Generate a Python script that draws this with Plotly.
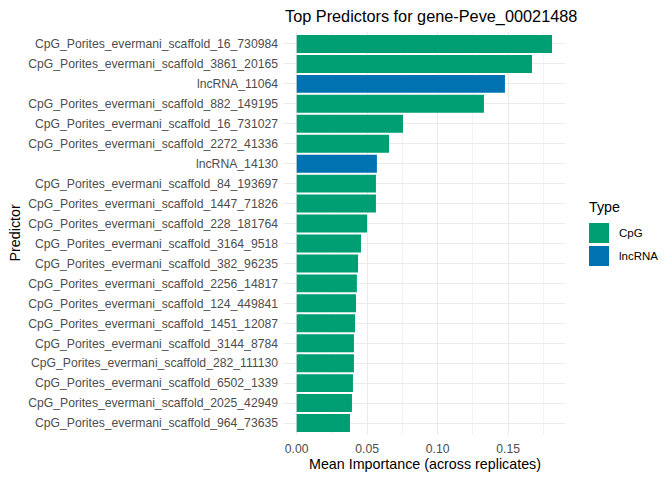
import plotly.graph_objects as go

predictors = [
    "CpG_Porites_evermani_scaffold_16_730984",
    "CpG_Porites_evermani_scaffold_3861_20165",
    "lncRNA_11064",
    "CpG_Porites_evermani_scaffold_882_149195",
    "CpG_Porites_evermani_scaffold_16_731027",
    "CpG_Porites_evermani_scaffold_2272_41336",
    "lncRNA_14130",
    "CpG_Porites_evermani_scaffold_84_193697",
    "CpG_Porites_evermani_scaffold_1447_71826",
    "CpG_Porites_evermani_scaffold_228_181764",
    "CpG_Porites_evermani_scaffold_3164_9518",
    "CpG_Porites_evermani_scaffold_382_96235",
    "CpG_Porites_evermani_scaffold_2256_14817",
    "CpG_Porites_evermani_scaffold_124_449841",
    "CpG_Porites_evermani_scaffold_1451_12087",
    "CpG_Porites_evermani_scaffold_3144_8784",
    "CpG_Porites_evermani_scaffold_282_111130",
    "CpG_Porites_evermani_scaffold_6502_1339",
    "CpG_Porites_evermani_scaffold_2025_42949",
    "CpG_Porites_evermani_scaffold_964_73635",
]
importance = [0.1811, 0.1669, 0.1477, 0.1328, 0.0754, 0.0655, 0.0569, 0.0562,
              0.0562, 0.0499, 0.0456, 0.0435, 0.0427, 0.0421, 0.0414, 0.0406,
              0.0406, 0.0399, 0.0392, 0.0378]
types = ["CpG" if p.startswith("CpG") else "lncRNA" for p in predictors]
type_names = ["CpG", "lncRNA"]
type_colors = {"CpG": "#009E73", "lncRNA": "#0072B2"}
x_ticks = [0, 0.05, 0.10, 0.15]
x_tick_labels = ["0.00", "0.05", "0.10", "0.15"]

FONT = "Liberation Sans, Arial, sans-serif"

fig = go.Figure()
for t in type_names:
    ys = [p for p, tt in zip(predictors, types) if tt == t]
    xs = [v for v, tt in zip(importance, types) if tt == t]
    fig.add_trace(go.Bar(x=xs, y=ys, orientation="h", width=0.9,
                         marker=dict(color=type_colors[t], line=dict(width=0)),
                         name=t, showlegend=False))

n = len(predictors)
# page body has an 8px margin, so the figure is 8px smaller and margins shifted
fig.update_layout(
    width=664, height=472,
    margin=dict(l=276, r=107, t=24, b=45),
    paper_bgcolor="white", plot_bgcolor="white",
    barmode="overlay",
    font=dict(family=FONT, color="#4d4d4d", size=12.2),
    title=dict(text="Top Predictors for gene-Peve_00021488", x=277/664, xanchor="left",
               y=1 - 8/472, yanchor="middle",
               font=dict(size=16.3, color="black", family=FONT)),
    xaxis=dict(range=[-0.009, 0.1903], tickvals=x_ticks, ticktext=x_tick_labels,
               showgrid=True, gridcolor="#EBEBEB", gridwidth=1.1, zeroline=False,
               showline=False, ticks="", tickfont=dict(size=12.2, color="#4d4d4d"),
               ticklabelstandoff=5,
               minor=dict(dtick=0.025, tick0=0.025, showgrid=True, gridcolor="#F3F3F3", gridwidth=0.6)),
    yaxis=dict(categoryorder="array", categoryarray=predictors, range=[n - 0.4, -0.6],
               showgrid=True, gridcolor="#EBEBEB", gridwidth=1.1, zeroline=False,
               ticks="", tickfont=dict(size=12.2, color="#4d4d4d"), ticklabelstandoff=5),
)

# coordinate helpers (screen px -> paper)
def px_x(px):
    return (px - 284) / 281

def px_y(py):
    return (435 - py) / 403

# axis titles
fig.add_annotation(text="Mean Importance (across replicates)", xref="paper", yref="paper",
                   x=0.5, y=px_y(464), xanchor="center", yanchor="middle",
                   showarrow=False, font=dict(size=14.3, color="black", family=FONT))
fig.add_annotation(text="Predictor", xref="paper", yref="paper", textangle=-90,
                   x=px_x(14), y=0.5, xanchor="center", yanchor="middle",
                   showarrow=False, font=dict(size=14.3, color="black", family=FONT))

# legend (drawn manually to mimic ggplot key)
fig.add_annotation(text="Type", xref="paper", yref="paper", x=px_x(587), y=px_y(207),
                   xanchor="left", yanchor="middle", showarrow=False,
                   font=dict(size=14.3, color="black", family=FONT))
for i, t in enumerate(type_names):
    top = 223 + i * 23
    fig.add_shape(type="rect", xref="paper", yref="paper", x0=px_x(589), x1=px_x(609),
                  y0=px_y(top), y1=px_y(top + 20), fillcolor=type_colors[t], line=dict(width=0))
    fig.add_annotation(text=t, xref="paper", yref="paper", x=px_x(617), y=px_y(top + 10),
                       xanchor="left", yanchor="middle", showarrow=False,
                       font=dict(size=11.5, color="black", family=FONT))

fig.write_html("out.html")
